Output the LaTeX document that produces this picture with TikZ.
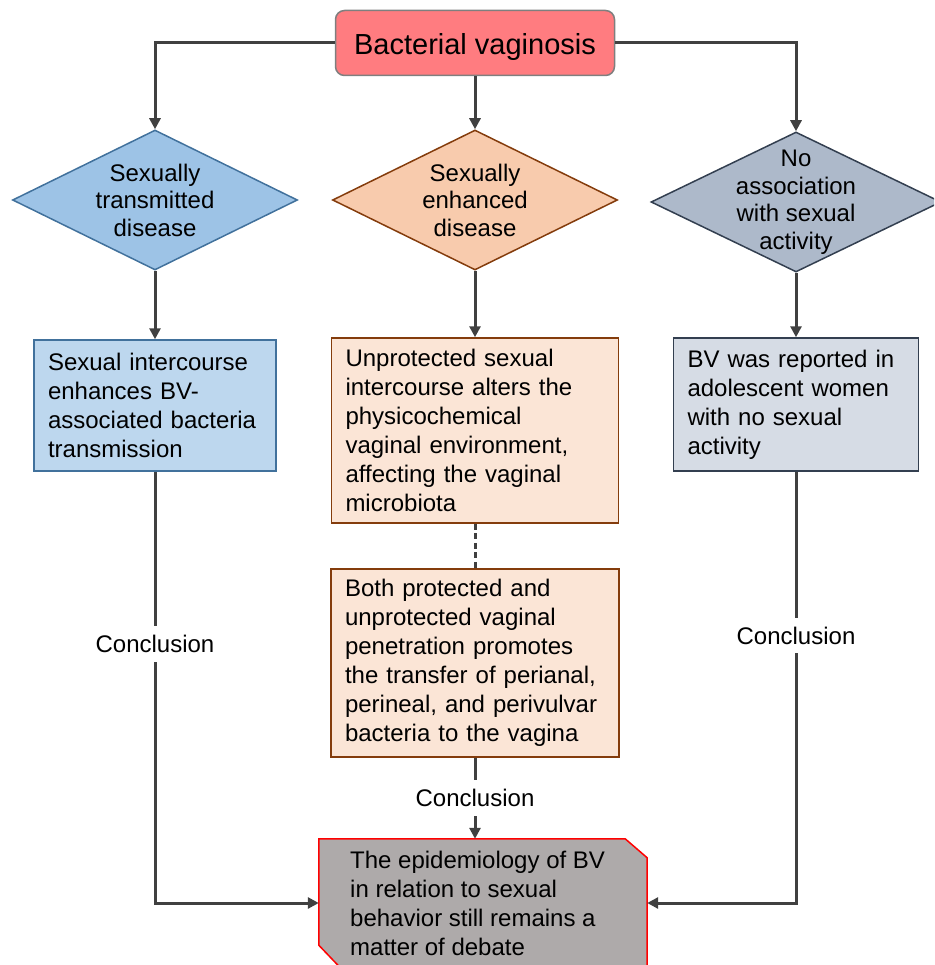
\documentclass[tikz,border=0pt]{standalone}
\usepackage{fontspec}
\setmainfont{Liberation Sans}
\usetikzlibrary{shapes.geometric,arrows.meta,calc}
\definecolor{conncol}{HTML}{404040}
\definecolor{titlefill}{HTML}{FF7C80}
\definecolor{titledraw}{HTML}{7F7F7F}
\definecolor{bluedia}{HTML}{9DC3E6}
\definecolor{bluebox}{HTML}{BDD7EE}
\definecolor{bluedraw}{HTML}{41719C}
\definecolor{orgdia}{HTML}{F8CBAD}
\definecolor{orgbox}{HTML}{FBE5D6}
\definecolor{orgdraw}{HTML}{843C0C}
\definecolor{greydia}{HTML}{ADB9CA}
\definecolor{greybox}{HTML}{D6DCE5}
\definecolor{greydraw}{HTML}{333F50}
\definecolor{conclfill}{HTML}{AEAAAA}
\newcommand\bdfont{\fontsize{24}{29}\selectfont}
\newcommand\dgfont{\fontsize{24}{27.5}\selectfont}
\begin{document}
\begin{tikzpicture}[x=1pt,y=-1pt,
  conn/.style={draw=conncol,line width=3pt,-{Triangle[length=11pt,width=11pt]}},
  dashconn/.style={draw=conncol,line width=3pt,dash pattern=on 6pt off 3.5pt},
  titlebox/.style={draw=titledraw,fill=titlefill,line width=1.5pt,rounded corners=9pt,
    minimum width=279pt,minimum height=65pt,text height=25pt,text depth=2pt,font=\fontsize{29}{34}\selectfont},
  dia/.style={diamond,line width=1.5pt,inner sep=0pt,minimum width=285pt,minimum height=140pt},
  diatext/.style={align=center,font=\dgfont,inner sep=0pt},
  bx/.style={line width=1.5pt,align=left,font=\bdfont,inner xsep=14pt,inner ysep=0pt},
  lab/.style={fill=white,font=\bdfont,inner xsep=2pt,inner ysep=9pt},
]
\useasboundingbox (0,0) rectangle (934,965);
\clip (0,0) rectangle (934,965);

\node[titlebox] (top) at (475,43) {Bacterial vaginosis};

\node[dia,fill=bluedia,draw=bluedraw] (d1) at (155,200) {};
\node[diatext] at (d1) {Sexually\\transmitted\\disease};
\node[dia,fill=orgdia,draw=orgdraw] (d2) at (475,200) {};
\node[diatext] at (d2) {Sexually\\enhanced\\disease};
\node[dia,fill=greydia,draw=greydraw,minimum width=290pt] (d3) at (796,202) {};
\node[diatext] at (d3) {No\\association\\with sexual\\activity};

\node[bx,fill=bluebox,draw=bluedraw,minimum width=242pt,minimum height=131pt,text width=214pt] (b1) at (155,405.5)
  {Sexual intercourse\\enhances BV-\\associated bacteria\\transmission};
\node[bx,fill=orgbox,draw=orgdraw,minimum width=287pt,minimum height=185pt,text width=259pt] (b2) at (475,430.5)
  {Unprotected sexual\\intercourse alters the\\physicochemical\\vaginal environment,\\affecting the vaginal\\microbiota};
\node[bx,fill=orgbox,draw=orgdraw,minimum width=288pt,minimum height=188pt,text width=260pt] (b3) at (475,663)
  {Both protected and\\unprotected vaginal\\penetration promotes\\the transfer of perianal,\\perineal, and perivulvar\\bacteria to the vagina};
\node[bx,fill=greybox,draw=greydraw,minimum width=245pt,minimum height=133pt,text width=217pt] (b4) at (796,404.5)
  {BV was reported in\\adolescent women\\with no sexual\\activity};

\node[minimum width=328pt,minimum height=128pt,inner sep=0pt] (concl) at (483,903) {};
\draw[fill=conclfill,draw=red,line width=1.5pt]
  (concl.north west) -- ($(concl.north east)+(-22,0)$) -- ($(concl.north east)+(0,19)$)
  -- (concl.south east) -- ($(concl.south west)+(21,0)$) -- ($(concl.south west)+(0,-22)$) -- cycle;
\node[align=left,font=\bdfont,inner sep=0pt,anchor=west] (concltext) at (350,903.5)
  {The epidemiology of BV\\in relation to sexual\\behavior still remains a\\matter of debate};

\draw[conn] (top.west) -| (d1.north);
\draw[conn] (top.east) -| (d3.north);
\draw[conn] (top.south) -- (d2.north);
\draw[conn] (d1.south) -- (b1.north);
\draw[conn] (d2.south) -- (b2.north);
\draw[conn] (d3.south) -- (b4.north);
\draw[dashconn] (b2.south) -- (b3.north);
\draw[conn] (b3.south) -- node[lab] {Conclusion} (b3.south |- concl.north);
\draw[conn] (b1.south) |- node[lab,pos=0.2] {Conclusion} (concl.west);
\draw[conn] (b4.south) |- node[lab,pos=0.19] {Conclusion} (concl.east);
\end{tikzpicture}
\end{document}
